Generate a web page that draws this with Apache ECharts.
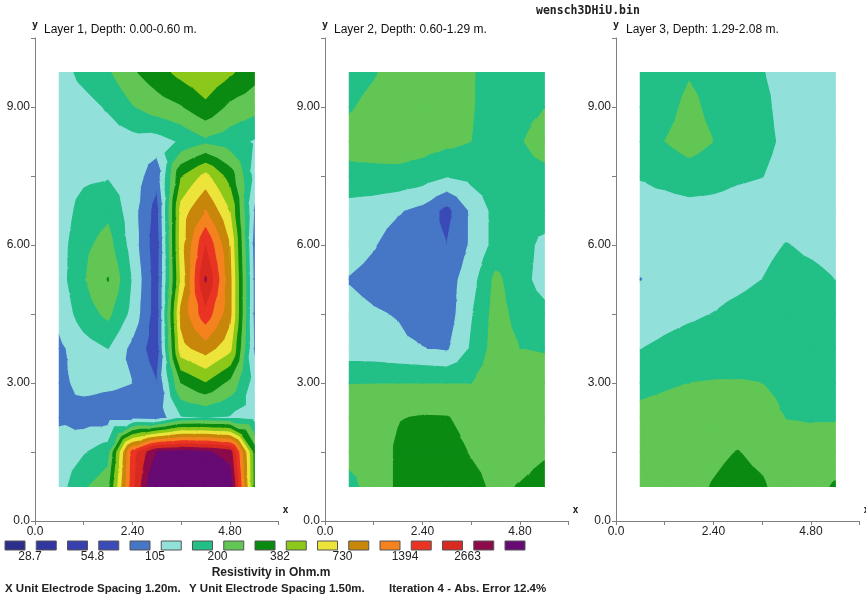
<!DOCTYPE html>
<html><head><meta charset="utf-8">
<script src="https://cdn.jsdelivr.net/npm/echarts@6/dist/echarts.min.js"></script>
<style>html,body{margin:0;padding:0;background:#fff}#c{width:866px;height:598px}</style>
</head><body><div id="c"></div>
<script>
// ---- data ----
const xNodes = [0.6, 1.2, 1.8, 2.4, 3.0, 3.6, 4.2, 4.8, 5.4];
const yNodes = [0.75, 1.5, 2.25, 3.0, 3.75, 4.5, 5.25, 6.0, 6.75, 7.5, 8.25, 9.0, 9.75];
const levels = [28.7, 39.7, 54.8, 75.8, 105, 145, 200, 276, 382, 528, 730, 1009, 1394, 1927, 2663, 3680];
const levelLabels = ['28.7', '54.8', '105', '200', '382', '730', '1394', '2663'];
const bandColors = ['#2c2e8c', '#3236a0', '#3840ae', '#3a4ab6', '#4677c6', '#92e0da', '#22bf87', '#62c654',
  '#0b8a12', '#8cc81a', '#ece43a', '#c8860a', '#f4831f', '#e93424', '#d82a20', '#8c0a4a', '#680a74'];
const layerTitles = ['Layer 1, Depth: 0.00-0.60 m.', 'Layer 2, Depth: 0.60-1.29 m.', 'Layer 3, Depth: 1.29-2.08 m.'];
const fileName = 'wensch3DHiU.bin';
const legendTitle = 'Resistivity in Ohm.m';
const footer = ['X Unit Electrode Spacing 1.20m.', 'Y Unit Electrode Spacing 1.50m.', 'Iteration 4 - Abs. Error 12.4%'];
const xLabelValues = [0, 2.4, 4.8];
const xTickLabels = ['0.0', '2.40', '4.80'];
const yLabelValues = [0, 3, 6, 9];
const yTickLabels = ['0.0', '3.00', '6.00', '9.00'];

// resistivity (Ohm.m) at grid nodes, rows from y=0.75 (bottom) to y=9.75 (top)
const layer1 = [
  [125, 190, 240, 1700, 6000, 6500, 6000, 4500, 340],
  [120, 140, 175, 1600, 3800, 4200, 3900, 3200, 330],
  [100,  90,  90,   90,   85,  140,  145,  140, 125],
  [ 97, 115, 110,  105,   76,  275,  370,  250, 125],
  [ 98, 125, 145,   95,   62,  650,  850,  580, 100],
  [115, 170, 215,  130,   62,  800, 1700,  800,  95],
  [125, 195, 280,  140,   62,  560, 2750,  800,  95],
  [125, 185, 225,  125,   60,  620, 1900,  730,  90],
  [120, 165, 185,  120,   65,  600, 1020,  520, 100],
  [120, 135, 140,  125,   85,  370,  580,  330, 130],
  [115, 118, 122,  128,  125,  150,  186,  165, 140],
  [118, 128, 150,  195,  235,  268,  350,  255, 225],
  [125, 160, 190,  262,  330,  420,  500,  400, 310]
];
const layer2 = [
  [175, 240, 285, 330, 330, 300, 260, 280, 310],
  [230, 240, 285, 320, 310, 270, 250, 245, 265],
  [240, 250, 272, 282, 280, 250, 240, 235, 230],
  [198, 199, 199, 199, 199, 199, 240, 235, 230],
  [120, 118, 112, 106, 100, 150, 230, 200, 195],
  [115, 108, 103,  90,  88, 140, 225, 180, 160],
  [103,  95,  90,  88,  90, 125, 215, 165, 125],
  [120, 107,  90,  85,  76, 110, 160, 170, 130],
  [125, 120, 108,  95,  68, 110, 160, 170, 180],
  [185, 183, 183, 170, 147, 160, 175, 180, 185],
  [220, 230, 235, 230, 215, 200, 165, 195, 225],
  [195, 215, 235, 245, 240, 205, 170, 185, 199],
  [180, 195, 225, 240, 235, 205, 175, 180, 185]
];
const layer3 = [
  [200, 240, 255, 280, 300, 285, 240, 245, 285],
  [215, 235, 250, 262, 278, 258, 230, 225, 235],
  [215, 225, 235, 245, 240, 225, 198, 195, 195],
  [185, 192, 200, 203, 203, 200, 185, 180, 180],
  [144, 155, 165, 170, 175, 180, 185, 185, 180],
  [120, 130, 138, 146, 160, 172, 180, 175, 165],
  [104, 115, 120, 125, 132, 145, 165, 160, 145],
  [115, 118, 120, 122, 125, 132, 147, 135, 125],
  [125, 125, 128, 128, 125, 122, 118, 115, 115],
  [148, 160, 175, 165, 152, 146, 128, 120, 118],
  [155, 200, 225, 200, 175, 158, 135, 122, 118],
  [150, 180, 215, 185, 170, 155, 130, 120, 118],
  [150, 170, 195, 180, 165, 147, 130, 125, 122]
];

// ---- contouring helpers ----
const logLv = levels.map(Math.log);
function bandOf(lv) { let b = 0; while (b < logLv.length && lv >= logLv[b]) b++; return b; }
function clipHalf(poly, f) {
  const res = [];
  for (let i = 0; i < poly.length; i++) {
    const P = poly[i], Q = poly[(i + 1) % poly.length];
    const fp = f(P), fq = f(Q);
    if (fp >= 0) res.push(P);
    if ((fp >= 0) !== (fq >= 0)) {
      const t = fp / (fp - fq);
      res.push([P[0] + t * (Q[0] - P[0]), P[1] + t * (Q[1] - P[1]), P[2] + t * (Q[2] - P[2])]);
    }
  }
  return res;
}
function makeRender(grid) {
  return function (params, api) {
    const c = api.value(2), r = api.value(3);
    const corners = [[c, r], [c + 1, r], [c + 1, r + 1], [c, r + 1]].map(function (q) {
      const p = api.coord([xNodes[q[0]], yNodes[q[1]]]);
      return [p[0], p[1], Math.log(grid[q[1]][q[0]])];
    });
    const ctr = [0, 0, 0];
    corners.forEach(function (p) { ctr[0] += p[0] / 4; ctr[1] += p[1] / 4; ctr[2] += p[2] / 4; });
    const children = [];
    for (let k = 0; k < 4; k++) {
      const tri = [corners[k], corners[(k + 1) % 4], ctr];
      const vs = tri.map(function (p) { return p[2]; });
      const b0 = bandOf(Math.min.apply(null, vs)), b1 = bandOf(Math.max.apply(null, vs));
      for (let b = b0; b <= b1; b++) {
        let poly = tri;
        if (b > 0) { const lo = logLv[b - 1]; poly = clipHalf(poly, function (p) { return p[2] - lo; }); }
        if (poly.length >= 3 && b < logLv.length) { const hi = logLv[b]; poly = clipHalf(poly, function (p) { return hi - p[2]; }); }
        if (poly.length >= 3) {
          children.push({
            type: 'polygon', silent: true,
            shape: { points: poly.map(function (p) { return [p[0], p[1]]; }) },
            style: { fill: bandColors[b], stroke: bandColors[b], lineWidth: 1.2, lineJoin: 'round' }
          });
        }
      }
    }
    return { type: 'group', children: children };
  };
}

const cells = [];
for (let r = 0; r < yNodes.length - 1; r++)
  for (let c = 0; c < xNodes.length - 1; c++)
    cells.push([(xNodes[c] + xNodes[c + 1]) / 2, (yNodes[r] + yNodes[r + 1]) / 2, c, r]);

const layers = [layer1, layer2, layer3];
const gridLefts = [35, 325, 616];
const titleLefts = [44, 334, 626];
const FONT = '"Liberation Sans", Arial, sans-serif';
const axisCol = '#808080';

function pick(vals, labels, v) {
  const k = vals.findIndex(function (t) { return Math.abs(t - v) < 1e-6; });
  return k >= 0 ? labels[k] : '';
}

const option = {
  animation: false,
  backgroundColor: '#fff',
  title: [{
    text: fileName, left: 536, top: 5, padding: 0,
    textStyle: { fontFamily: '"DejaVu Sans Mono", monospace', fontWeight: 'bold', fontSize: 11.5, color: '#222' }
  }].concat(layerTitles.map(function (t, i) {
    return { text: t, left: titleLefts[i], top: 24, padding: 0,
      textStyle: { fontFamily: FONT, fontWeight: 'normal', fontSize: 12, color: '#111' } };
  })),
  grid: gridLefts.map(function (l) {
    return { left: l, top: 38, width: 243.6, height: 483, outerBoundsMode: 'none', containLabel: false };
  }),
  xAxis: gridLefts.map(function (l, i) {
    return {
      gridIndex: i, type: 'value', min: 0, max: 6, interval: 1.2,
      name: 'x', nameLocation: 'end', nameGap: 4,
      nameTextStyle: { fontFamily: '"DejaVu Sans Mono", monospace', fontWeight: 'bold', fontSize: 10, color: '#222', verticalAlign: 'bottom', padding: [0, 0, 6, 0] },
      axisLine: { show: true, onZero: false, lineStyle: { color: axisCol, width: 1 } },
      axisTick: { show: true, length: 4, lineStyle: { color: axisCol } },
      axisLabel: { margin: 5, fontSize: 12, fontFamily: FONT, color: '#222',
        formatter: function (v) { return pick(xLabelValues, xTickLabels, v); } },
      splitLine: { show: false }
    };
  }),
  yAxis: gridLefts.map(function (l, i) {
    return {
      gridIndex: i, type: 'value', min: 0, max: 10.5, interval: 1.5,
      name: 'y', nameLocation: 'end', nameGap: 8,
      nameTextStyle: { fontFamily: '"DejaVu Sans Mono", monospace', fontWeight: 'bold', fontSize: 10, color: '#222', align: 'center' },
      axisLine: { show: true, onZero: false, lineStyle: { color: axisCol, width: 1 } },
      axisTick: { show: true, length: 4, lineStyle: { color: axisCol } },
      axisLabel: { margin: 5, fontSize: 12, fontFamily: FONT, color: '#222',
        formatter: function (v) { return pick(yLabelValues, yTickLabels, v); } },
      splitLine: { show: false }
    };
  }),
  series: layers.map(function (L, i) {
    return { type: 'custom', xAxisIndex: i, yAxisIndex: i, data: cells, encode: { x: 0, y: 1 },
      renderItem: makeRender(L), silent: true, clip: false, animation: false };
  }),
  graphic: bandColors.map(function (col, i) {
    return { type: 'rect', silent: true, shape: { x: 5 + 31.25 * i, y: 541, width: 20, height: 9 },
      style: { fill: col, stroke: '#555', lineWidth: 1 } };
  }).concat(levelLabels.map(function (t, k) {
    return { type: 'text', silent: true, x: 30 + 62.5 * k, y: 557,
      style: { text: t, font: '12px ' + FONT, fill: '#222', align: 'center', verticalAlign: 'middle' } };
  })).concat([
    { type: 'text', silent: true, x: 271, y: 573,
      style: { text: legendTitle, font: 'bold 12px ' + FONT, fill: '#222', align: 'center', verticalAlign: 'middle' } },
    { type: 'text', silent: true, x: 5, y: 589,
      style: { text: footer[0], font: 'bold 11.5px ' + FONT, fill: '#222', align: 'left', verticalAlign: 'middle' } },
    { type: 'text', silent: true, x: 189, y: 589,
      style: { text: footer[1], font: 'bold 11.5px ' + FONT, fill: '#222', align: 'left', verticalAlign: 'middle' } },
    { type: 'text', silent: true, x: 389, y: 589,
      style: { text: footer[2], font: 'bold 11.5px ' + FONT, fill: '#222', align: 'left', verticalAlign: 'middle' } }
  ])
};
const chart = echarts.init(document.getElementById('c'));
chart.setOption(option);
</script>
</body></html>
